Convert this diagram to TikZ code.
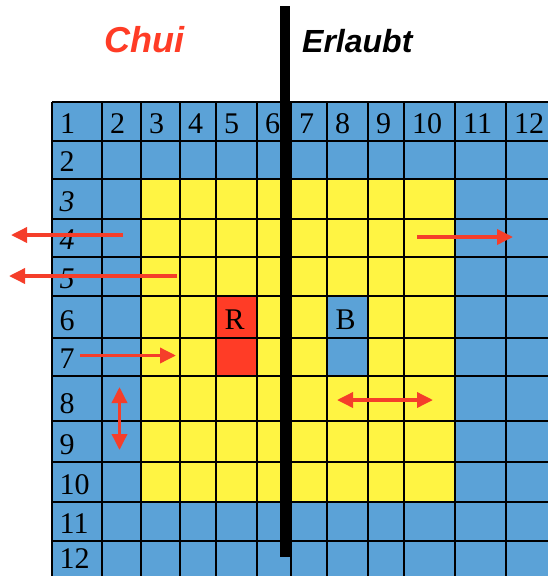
\documentclass[tikz,border=0pt]{standalone}
\usepackage{fontspec}
\setmainfont{Liberation Serif}
\newfontfamily\arialfont{Liberation Sans}
\usetikzlibrary{arrows.meta}
\definecolor{cellblue}{RGB}{91,162,215}
\definecolor{cellyellow}{RGB}{255,244,67}
\definecolor{cellred}{RGB}{255,60,38}
\definecolor{arrowred}{RGB}{245,62,42}
\begin{document}
\begin{tikzpicture}[x=1pt,y=-1pt,
  lbl/.style={anchor=base west,inner sep=0pt,font=\fontsize{30}{30}\selectfont},
  gridline/.style={line width=1.6pt,black},
  mv/.style={draw=arrowred,line width=3.5pt,-{Triangle[length=16pt,width=15pt]}},
  mvboth/.style={draw=arrowred,line width=3.5pt,{Triangle[length=16pt,width=15pt]}-{Triangle[length=16pt,width=15pt]}},
  title/.style={anchor=base west,inner sep=0pt}]
\useasboundingbox (0,0) rectangle (548,576);
% cells
\fill[cellblue] (52,102) rectangle (548,576);
\fill[cellyellow] (141,179) rectangle (455,502);
\fill[cellred] (216,296) rectangle (257,376);
\fill[cellblue] (327,296) rectangle (368,376);
% grid
\foreach \gx in {52,102,141,180,216,257,291,327,368,404,455,506}
  \draw[gridline] (\gx,102) -- (\gx,576);
\foreach \gy in {102,141,179,219,257,296,338,376,421,462,502,541}
  \draw[gridline] (52,\gy) -- (548,\gy);
% column numbers (row 1)
\foreach \gx [count=\i] in {52,102,141,180,216,257,291,327,368,404,455,506}
  \node[lbl] (col\i) at (\gx+8,133) {\i};
% row numbers (column 1)
\foreach \gy/\n in {171/2,330/6,368/7,413/8,454/9,494/10,533/11,568/12}
  \node[lbl] (row\n) at (59.5,\gy) {\n};
\foreach \gy/\n in {211/3,249/4,288/5}
  \node[lbl] (row\n) at (59.5,\gy) {\itshape \n};
% pieces
\node[lbl] (R) at (224.5,329) {R};
\node[lbl] (B) at (335.5,329) {B};
% arrows
\coordinate (a1s) at (123,235); \coordinate (a1e) at (11,235);
\coordinate (a2s) at (177,276); \coordinate (a2e) at (9,276);
\coordinate (a3s) at (417,237); \coordinate (a3e) at (513,237);
\coordinate (a4s) at (80,355.5); \coordinate (a4e) at (176,355.5);
\coordinate (a5s) at (119.5,387); \coordinate (a5e) at (119.5,450);
\coordinate (a6s) at (337,400); \coordinate (a6e) at (433,400);
\draw[mv] (a1s) -- (a1e);
\draw[mv] (a2s) -- (a2e);
\draw[mv] (a3s) -- (a3e);
\draw[mv] (a4s) -- (a4e);
\draw[mvboth] (a5s) -- (a5e);
\draw[mvboth] (a6s) -- (a6e);
% divider
\fill[black] (280,6) rectangle (289.5,557);
% titles
\node[title,text=cellred,font=\arialfont\bfseries\itshape\fontsize{36}{36}\selectfont] (chui) at (104,52.5) {Chui};
\node[title,font=\arialfont\bfseries\itshape\fontsize{32}{32}\selectfont] (erlaubt) at (302,52) {Erlaubt};
\end{tikzpicture}
\end{document}
